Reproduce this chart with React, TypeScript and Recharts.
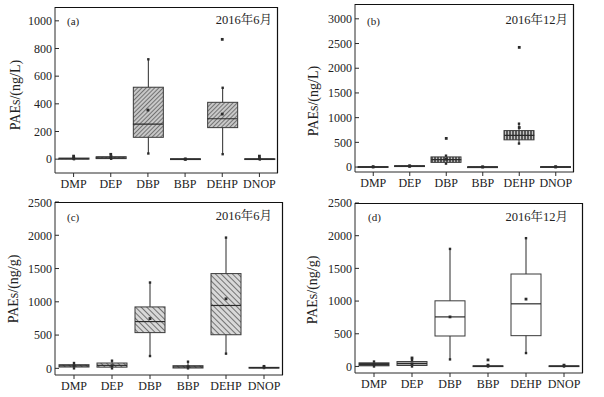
import React from "react";
import { Bar, ComposedChart, Scatter, XAxis, YAxis } from "recharts";

const SERIF = '"Liberation Serif", "Times New Roman", "Noto Serif CJK SC", "Noto Sans CJK SC", serif';
const INK = "#2b2b2b";
const BOX = 30;
const CHART_W = 300;
const Y_AXIS_W = 40;
const X_AXIS_H = 22;

const compounds = ["DMP", "DEP", "DBP", "BBP", "DEHP", "DNOP"];

// (a) water, 2016-06, ng/L
const aMin = [0, 3, 41, -3, 36, -2];
const aQ1 = [0, 4, 158, -3, 228, -2];
const aMed = [3, 10, 253, 0, 292, 0];
const aQ3 = [8, 18, 520, 3, 411, 3];
const aMax = [10, 20, 722, 3, 516, 3];
const aMean = [6, 12, 355, 0, 326, 4];
const aOut = [22, 35, null, null, 866, 22];

// (b) water, 2016-12, ng/L
const bMin = [0, 10, 70, 0, 476, 0];
const bQ1 = [0, 10, 95, 0, 551, 0];
const bMed = [3, 18, 150, 2, 640, 3];
const bQ3 = [8, 28, 205, 5, 738, 8];
const bMax = [8, 30, 230, 5, 878, 8];
const bMean = [4, 20, 160, 2, 800, 4];
const bOut = [null, null, 580, null, 2422, null];

// (c) sediment, 2016-06, ng/g
const cMin = [0, 0, 185, 0, 221, 5];
const cQ1 = [20, 18, 537, 5, 505, 5];
const cMed = [38, 45, 703, 22, 945, 10];
const cQ3 = [55, 80, 923, 40, 1424, 15];
const cMax = [80, 115, 1290, 100, 1965, 15];
const cMean = [40, 40, 748, 25, 1045, 30];
const cOut = [null, null, null, null, null, null];

// (d) sediment, 2016-12, ng/g
const dMin = [0, 0, 108, 0, 205, 0];
const dQ1 = [10, 15, 466, 0, 471, 0];
const dMed = [35, 45, 758, 5, 958, 5];
const dQ3 = [55, 75, 1004, 10, 1414, 10];
const dMax = [75, 100, 1798, 10, 1962, 10];
const dMean = [30, 40, 758, 20, 1030, 20];
const dOut = [null, 130, null, 100, null, null];

const ticksA = [0, 200, 400, 600, 800, 1000];
const ticksB = [0, 500, 1000, 1500, 2000, 2500, 3000];
const ticksCD = [0, 500, 1000, 1500, 2000, 2500];

function rows(min, q1, med, q3, max, mean, out) {
  return compounds.map((name, i) => ({
    name,
    whisker: [min[i], max[i]],
    box: [q1[i], q3[i]],
    med: med[i],
    mean: mean[i],
    out: out[i],
  }));
}

function Whisker(props) {
  const { x, y, width, height } = props;
  if (x == null || y == null) return null;
  const cx = x + width / 2;
  const top = Math.min(y, y + height);
  const bot = Math.max(y, y + height);
  return (
    <g>
      <line x1={cx} x2={cx} y1={top} y2={bot} stroke={INK} strokeWidth={1} />
      <rect x={cx - 1.2} y={top - 1.2} width={2.4} height={2.4} fill={INK} />
      <rect x={cx - 1.2} y={bot - 1.2} width={2.4} height={2.4} fill={INK} />
    </g>
  );
}

function makeBox(fills) {
  return (props) => {
    const { x, y, width, height, payload } = props;
    if (x == null || y == null) return null;
    const top = Math.min(y, y + height);
    const h = Math.max(Math.abs(height), 0.8);
    const fill = fills[compounds.indexOf(payload.name)];
    return <rect x={x} y={top} width={width} height={h} fill={fill} stroke="#3a3a3a" strokeWidth={1} />;
  };
}

function MedianLine(props) {
  const { cx, cy } = props;
  if (!Number.isFinite(cx) || !Number.isFinite(cy)) return null;
  return <line x1={cx - BOX / 2} x2={cx + BOX / 2} y1={cy} y2={cy} stroke={INK} strokeWidth={1.2} />;
}

function Dot(props) {
  const { cx, cy, payload, dataKey } = props;
  if (!Number.isFinite(cx) || !Number.isFinite(cy)) return null;
  if (payload && dataKey && payload[dataKey] == null) return null;
  return <rect x={cx - 1.4} y={cy - 1.4} width={2.8} height={2.8} fill={INK} />;
}

function Patterns() {
  return (
    <defs>
      <pattern id="hatchA" width="3" height="3" patternUnits="userSpaceOnUse" patternTransform="rotate(45)">
        <rect width="3" height="3" fill="#c8c8c8" />
        <line x1="0" y1="0" x2="0" y2="3" stroke="#3a3a3a" strokeWidth="1.2" />
      </pattern>
      <pattern id="stripeB" width="3" height="6" patternUnits="userSpaceOnUse">
        <rect width="3" height="6" fill="#5a5a5a" />
        <line x1="1.5" y1="0" x2="1.5" y2="6" stroke="#c8c8c8" strokeWidth="1" />
      </pattern>
      <pattern id="hatchC" width="4" height="4" patternUnits="userSpaceOnUse" patternTransform="rotate(-45)">
        <rect width="4" height="4" fill="#d8d8d8" />
        <line x1="0" y1="0" x2="0" y2="4" stroke="#3a3a3a" strokeWidth="1.3" />
      </pattern>
    </defs>
  );
}

function Panel({ pos, margin, data, domain, ticks, fills, unit, tag, month, textPos }) {
  // plot frame: top + right edges drawn in an overlay svg, left/bottom come from the axes
  const left = margin.left + Y_AXIS_W;
  const right = CHART_W - margin.right;
  const top = margin.top;
  const bottom = pos[2] - margin.bottom - X_AXIS_H;
  return (
    <div style={{ position: "absolute", left: pos[0], top: pos[1], width: CHART_W, height: pos[2] }}>
      <div style={{ position: "absolute", left: 0, top: 0 }}>
        <ComposedChart width={CHART_W} height={pos[2]} data={data} margin={margin} barSize={BOX} barGap={-BOX} barCategoryGap={0}>
          <Patterns />
          <XAxis
            dataKey="name"
            interval={0}
            height={X_AXIS_H}
            tickSize={4}
            tickMargin={2}
            axisLine={{ stroke: INK }}
            tickLine={{ stroke: INK }}
            tick={{ fontSize: 12, fill: "#222", fontFamily: SERIF }}
          />
          <YAxis
            domain={domain}
            ticks={ticks}
            width={Y_AXIS_W}
            tickSize={-4}
            tickMargin={7}
            allowDataOverflow
            axisLine={{ stroke: INK }}
            tickLine={{ stroke: INK }}
            tick={{ fontSize: 12, fill: "#222", fontFamily: SERIF }}
          />
          <Bar dataKey="whisker" shape={Whisker} isAnimationActive={false} />
          <Bar dataKey="box" shape={makeBox(fills)} isAnimationActive={false} />
          <Scatter dataKey="med" shape={MedianLine} isAnimationActive={false} />
          <Scatter dataKey="mean" shape={(p) => <Dot {...p} dataKey="mean" />} isAnimationActive={false} />
          <Scatter dataKey="out" shape={(p) => <Dot {...p} dataKey="out" />} isAnimationActive={false} />
          <text
            x={textPos[0]}
            y={textPos[1]}
            transform={`rotate(-90 ${textPos[0]} ${textPos[1]})`}
            textAnchor="middle"
            dominantBaseline="central"
            fontSize={14}
            fontFamily={SERIF}
            fill="#222"
          >
            {unit}
          </text>
          <text x={textPos[2]} y={textPos[3]} fontSize={11} fontFamily={SERIF} fill="#222">
            {tag}
          </text>
          <text x={textPos[4]} y={textPos[5]} textAnchor="end" fontSize={12.5} fontFamily={SERIF} fill="#222">
            {month}
          </text>
        </ComposedChart>
      </div>
      <svg
        width={CHART_W}
        height={pos[2]}
        style={{ position: "absolute", left: 0, top: 0, pointerEvents: "none", zIndex: 2 }}
      >
        <polyline
          points={`${left},${top + 0.5} ${right - 0.5},${top + 0.5} ${right - 0.5},${bottom}`}
          fill="none"
          stroke="#111"
          strokeWidth={1.2}
        />
      </svg>
    </div>
  );
}

const fillsA = compounds.map(() => "url(#hatchA)");
const fillsB = compounds.map(() => "url(#stripeB)");
const fillsC = compounds.map(() => "url(#hatchC)");
const fillsD = ["#3c3c3c", "#b8b8b8", "#fff", "#fff", "#fff", "#fff"];

export default function App() {
  return (
    <div style={{ position: "absolute", left: 0, top: 0, width: 604, height: 397, background: "#fff", overflow: "hidden" }}>
      <Panel
        pos={[0, 0, 197]}
        margin={{ top: 7, right: 22, bottom: 2, left: 15 }}
        data={rows(aMin, aQ1, aMed, aQ3, aMax, aMean, aOut)}
        domain={[-100, 1100]}
        ticks={ticksA}
        fills={fillsA}
        unit="PAEs/(ng/L)"
        tag="(a)"
        month="2016年6月"
        textPos={[15, 95, 67, 25, 272, 24]}
      />
      <Panel
        pos={[300, 0, 197]}
        margin={{ top: 4, right: 26, bottom: 3, left: 15 }}
        data={rows(bMin, bQ1, bMed, bQ3, bMax, bMean, bOut)}
        domain={[-100, 3300]}
        ticks={ticksB}
        fills={fillsB}
        unit="PAEs/(ng/L)"
        tag="(b)"
        month="2016年12月"
        textPos={[13, 101, 67, 25, 268, 24]}
      />
      <Panel
        pos={[0, 195, 202]}
        margin={{ top: 7, right: 17, bottom: 0, left: 15 }}
        data={rows(cMin, cQ1, cMed, cQ3, cMax, cMean, cOut)}
        domain={[-100, 2500]}
        ticks={ticksCD}
        fills={fillsC}
        unit="PAEs/(ng/g)"
        tag="(c)"
        month="2016年6月"
        textPos={[13, 94, 67, 26, 272, 25]}
      />
      <Panel
        pos={[300, 195, 202]}
        margin={{ top: 8, right: 17, bottom: 2, left: 15 }}
        data={rows(dMin, dQ1, dMed, dQ3, dMax, dMean, dOut)}
        domain={[-100, 2500]}
        ticks={ticksCD}
        fills={fillsD}
        unit="PAEs/(ng/g)"
        tag="(d)"
        month="2016年12月"
        textPos={[12, 95, 68, 26, 268, 26]}
      />
    </div>
  );
}
